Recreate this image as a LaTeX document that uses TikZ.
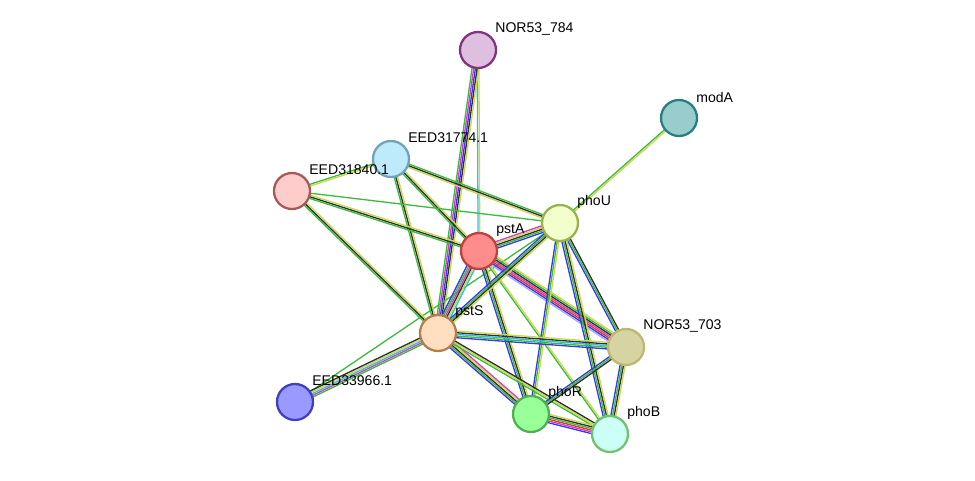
\documentclass[tikz,border=0pt]{standalone}
\usepackage{fontspec}
\setmainfont{Liberation Sans}
\usetikzlibrary{calc}
\definecolor{tm}{HTML}{C8D850}
\definecolor{ne}{HTML}{3CBB3C}
\definecolor{db}{HTML}{30C0D8}
\definecolor{ex}{HTML}{D040C0}
\definecolor{cb}{HTML}{3838E8}
\definecolor{fu}{HTML}{E83030}
\definecolor{co}{HTML}{303030}
\definecolor{lb}{HTML}{A0B0F0}
\tikzset{
  prot/.style={circle,minimum size=0.72cm,inner sep=0pt,line width=1.3pt},
  lab/.style={anchor=west,font=\fontsize{8}{9}\selectfont,inner sep=0pt},
  ev/.style={line width=0.75pt}
}
% edge with parallel evidence lines
\newcommand\edge[3]{%
  \foreach \c [count=\i] in {#3}{\xdef\nc{\i}}%
  \foreach \c [count=\i] in {#3}{%
    \pgfmathsetmacro\o{(\i-(\nc+1)/2)*0.95}%
    \draw[ev,\c] ($(#1)!\o pt!90:(#2)$) -- ($(#2)!\o pt!-90:(#1)$);}}
% protein node at a named coordinate, with its label
\newcommand\prot[4]{%
  \node[prot,fill=#3,draw=#4] (p#1) at (#1) {};
  \node[lab] at ($(#1)+(0.34,0.42)$) {#2};}
\begin{document}
\begin{tikzpicture}
\useasboundingbox (0,0) rectangle (19.5,-9.6);
\coordinate (n784) at (9.56,-1.0);
\coordinate (modA) at (13.58,-2.36);
\coordinate (e31774) at (7.82,-3.18);
\coordinate (e31840) at (5.84,-3.82);
\coordinate (phoU) at (11.2,-4.46);
\coordinate (pstA) at (9.58,-5.02);
\coordinate (pstS) at (8.76,-6.66);
\coordinate (n703) at (12.52,-6.94);
\coordinate (e33966) at (5.9,-8.04);
\coordinate (phoR) at (10.62,-8.28);
\coordinate (phoB) at (12.2,-8.68);

\edge{n784}{pstA}{db,tm}
\edge{n784}{pstS}{ne,ex,cb,co,tm}
\edge{modA}{phoU}{ne,tm}
\edge{e33966}{phoU}{ne}
\edge{e33966}{pstS}{ne,ex,db,tm,co}
\edge{e31774}{e31840}{ne,tm}
\edge{e31774}{pstA}{ne,co,tm}
\edge{e31774}{phoU}{tm,co,ne}
\edge{e31774}{pstS}{ne,co,tm}
\edge{e31840}{pstA}{ne,co,tm}
\edge{e31840}{phoU}{ne}
\edge{e31840}{pstS}{ne,co,tm}
\edge{pstA}{phoU}{cb,ne,co,tm,ex}
\edge{pstA}{pstS}{cb,ne,ex,co,tm,db}
\edge{pstA}{n703}{lb,cb,fu,ex,co,ne,tm}
\edge{pstA}{phoR}{cb,ne,co,tm}
\edge{pstA}{phoB}{ne,tm}
\edge{phoU}{pstS}{cb,ne,co,tm}
\edge{phoU}{n703}{cb,ne,co}
\edge{phoU}{phoR}{cb,ne,tm}
\edge{phoU}{phoB}{cb,ne,co,tm}
\edge{pstS}{n703}{cb,ne,db,co,tm}
\edge{pstS}{phoR}{cb,ne,co,tm,ex}
\edge{pstS}{phoB}{ne,tm,co}
\edge{n703}{phoR}{cb,ne,co}
\edge{n703}{phoB}{cb,ne,co,tm}
\edge{phoR}{phoB}{cb,ex,fu,ne,co,tm}

\prot{n784}{NOR53\_784}{violet!25}{violet!60!gray}
\prot{modA}{modA}{teal!40}{teal!70!gray}
\prot{e31774}{EED31774.1}{cyan!25}{cyan!40!gray}
\prot{e31840}{EED31840.1}{red!20}{red!30!gray}
\prot{phoU}{phoU}{lime!20}{lime!40!gray}
\prot{pstA}{pstA}{red!45}{red!50!gray}
\prot{pstS}{pstS}{orange!25}{orange!40!gray}
\prot{n703}{NOR53\_703}{yellow!40!gray!60}{yellow!40!gray}
\prot{e33966}{EED33966.1}{blue!40}{blue!50!gray}
\prot{phoR}{phoR}{green!40}{green!40!gray}
\prot{phoB}{phoB}{green!20!cyan!20}{green!40!gray!80}
\end{tikzpicture}
\end{document}
